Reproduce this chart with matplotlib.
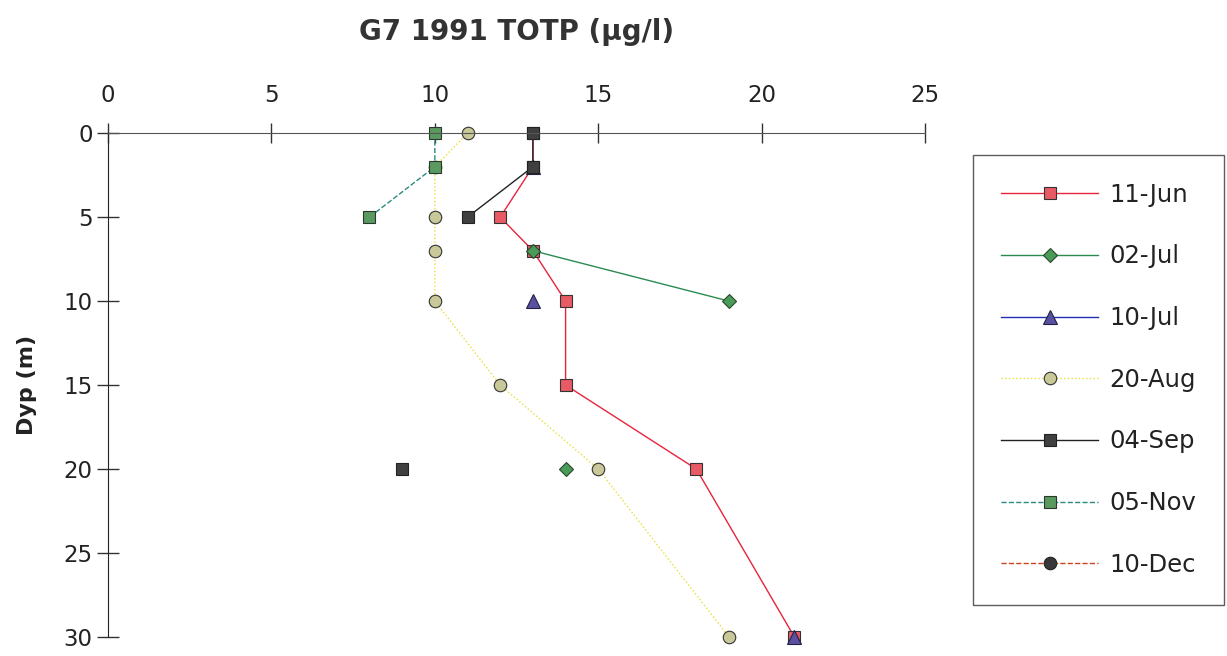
import numpy as np
import matplotlib
matplotlib.use("Agg")
import matplotlib.pyplot as plt

nan = np.nan
depth = [0, 2, 5, 7, 10, 15, 20, 30]
labels = ["11-Jun", "02-Jul", "10-Jul", "20-Aug", "04-Sep", "05-Nov", "10-Dec"]
jun11 = [13, 13, 12, 13, 14, 14, 18, 21]
jul02 = [nan, nan, nan, 13, 19, nan, 14, nan]
jul10 = [nan, 13, nan, nan, 13, nan, nan, 21]
aug20 = [11, 10, 10, 10, 10, 12, 15, 19]
sep04 = [13, 13, 11, nan, nan, nan, 9, nan]
nov05 = [10, 10, 8, nan, nan, nan, nan, nan]
dec10 = [nan, nan, nan, nan, nan, nan, nan, nan]
xticks = [0, 5, 10, 15, 20, 25]
yticks = [0, 5, 10, 15, 20, 25, 30]

series = [jun11, jul02, jul10, aug20, sep04, nov05, dec10]
styles = [
    dict(color="#e8243c", ls="-", marker="s", mfc="#e85a64", mec="#333333", ms=9),
    dict(color="#2a8a50", ls="-", marker="D", mfc="#4a9a5a", mec="#2a4a2a", ms=7.5),
    dict(color="#2030b0", ls="-", marker="^", mfc="#5a50a0", mec="#222244", ms=10),
    dict(color="#e8e030", ls=":", marker="o", mfc="#c8c898", mec="#333333", ms=9),
    dict(color="#222222", ls="-", marker="s", mfc="#404040", mec="#222222", ms=9),
    dict(color="#2a8a80", ls="--", marker="s", mfc="#5a9a60", mec="#2a3a2a", ms=9),
    dict(color="#d04020", ls="--", marker="o", mfc="#383838", mec="#222222", ms=9),
]

plt.rcParams["font.family"] = ["DejaVu Sans"]
fig = plt.figure(figsize=(12.27, 6.56), dpi=100)
ax = fig.add_axes([0.088, 0.029, 0.666, 0.768])

for vals, lab, st in zip(series, labels, styles):
    ax.plot(vals, depth, label=lab, lw=1.0, mew=0.8, clip_on=False, **st)

ax.set_xlim(0, 25)
ax.set_ylim(30, 0)
ax.xaxis.tick_top()
ax.set_xticks(xticks)
ax.set_yticks(yticks)
ax.tick_params(axis="x", direction="inout", length=14, width=1, color="#333333",
               labelsize=16.5, pad=12, labelcolor="#222222")
ax.tick_params(axis="y", direction="inout", length=16, width=1, color="#333333",
               labelsize=16.5, pad=3, labelcolor="#222222")
for s in ["right", "bottom"]:
    ax.spines[s].set_visible(False)
ax.spines["top"].set_color("#555555")
ax.spines["left"].set_color("#222222")
ax.set_ylabel("Dyp (m)", fontsize=16, fontweight="bold", color="#222222")
ax.yaxis.set_label_coords(-0.087, 0.5)

fig.text(0.421, 0.951, "G7 1991 TOTP (μg/l)", fontsize=20, fontweight="bold",
         ha="center", va="center", color="#333333")

leg = fig.legend(loc="upper left", bbox_to_anchor=(0.793, 0.764), fontsize=17.5,
                 handlelength=4.0, handletextpad=0.45, labelspacing=1.55,
                 borderpad=1.15, frameon=True, fancybox=False, edgecolor="#333333",
                 borderaxespad=0, labelcolor="#222222")
leg.get_frame().set_linewidth(1.0)

fig.savefig("out.png", dpi=100)
